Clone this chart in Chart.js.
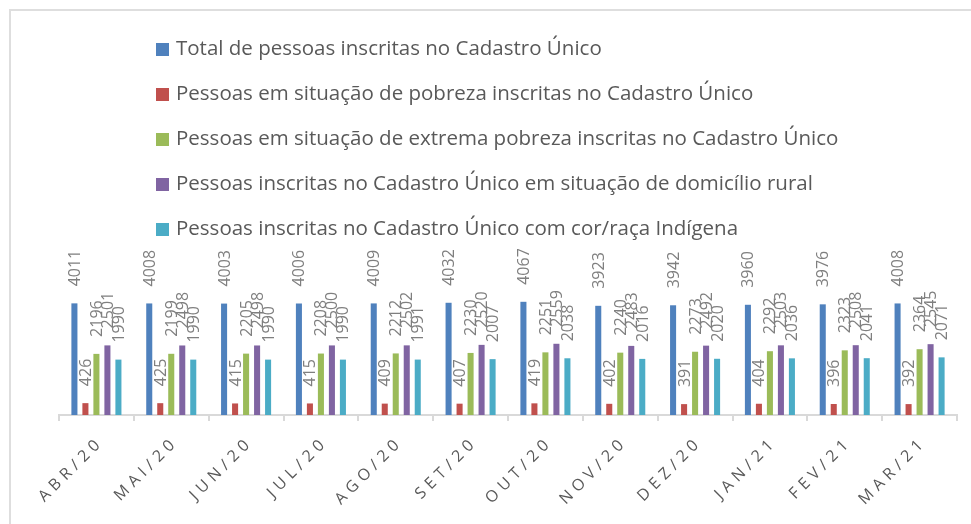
<!DOCTYPE html>
<html>
<head>
<meta charset="utf-8">
<script src="https://cdn.jsdelivr.net/npm/chart.js@4/dist/chart.umd.min.js"></script>
<style>
  body { margin: 0; background: #fff; overflow: hidden; }
  #wrap { position: relative; width: 971px; height: 524px; }
  #frame { position: absolute; left: 9px; top: 9px; width: 980px; height: 530px;
           border-top: 2px solid #dedede; border-left: 2px solid #dedede; }
  #chart { position: absolute; left: 0; top: 0; }
  #legend { position: absolute; left: 156px; top: 25px; font-family: "Open Sans", sans-serif;
            font-size: 20.5px; color: #595959; }
  #legend div { height: 45px; line-height: 45px; white-space: nowrap; }
  #legend span { display: inline-block; width: 13px; height: 13px; margin-right: 7px; vertical-align: -1px; }
</style>
</head>
<body>
<div id="wrap">
  <div id="frame"></div>
  <canvas id="chart" width="971" height="524"></canvas>
  <div id="legend"></div>
</div>
<script>
const months = ['ABR/20', 'MAI/20', 'JUN/20', 'JUL/20', 'AGO/20', 'SET/20', 'OUT/20', 'NOV/20', 'DEZ/20', 'JAN/21', 'FEV/21', 'MAR/21'];

const seriesNames = [
  'Total de pessoas inscritas no Cadastro Único',
  'Pessoas em situação de pobreza inscritas no Cadastro Único',
  'Pessoas em situação de extrema pobreza inscritas no Cadastro Único',
  'Pessoas inscritas no Cadastro Único em situação de domicílio rural',
  'Pessoas inscritas no Cadastro Único com cor/raça Indígena'
];

const total = [4011, 4008, 4003, 4006, 4009, 4032, 4067, 3923, 3942, 3960, 3976, 4008];
const pobreza = [426, 425, 415, 415, 409, 407, 419, 402, 391, 404, 396, 392];
const extremaPobreza = [2196, 2199, 2205, 2208, 2212, 2230, 2251, 2240, 2273, 2292, 2323, 2364];
const rural = [2501, 2498, 2498, 2500, 2502, 2520, 2559, 2483, 2492, 2503, 2508, 2545];
const indigena = [1990, 1990, 1990, 1990, 1991, 2007, 2038, 2016, 2020, 2036, 2041, 2071];

const colors = ['#4F81BD', '#C0504D', '#9BBB59', '#8064A2', '#4BACC6'];
const allSeries = [total, pobreza, extremaPobreza, rural, indigena];

// legend as html, one item per line
const legendEl = document.getElementById('legend');
seriesNames.forEach((name, i) => {
  const row = document.createElement('div');
  row.innerHTML = '<span style="background:' + colors[i] + '"></span>' + name;
  legendEl.appendChild(row);
});

// rotated value labels above each bar + spaced month labels at 45deg
const labelsPlugin = {
  id: 'labelsPlugin',
  afterDatasetsDraw(chart) {
    const ctx = chart.ctx;
    ctx.save();
    ctx.font = '16px "Open Sans"';
    ctx.fillStyle = '#7f7f7f';
    ctx.textAlign = 'left';
    ctx.textBaseline = 'middle';
    chart.data.datasets.forEach((ds, i) => {
      chart.getDatasetMeta(i).data.forEach((bar, j) => {
        ctx.save();
        ctx.translate(bar.x + 1, bar.y - 17);
        ctx.rotate(-Math.PI / 2);
        ctx.fillText(String(ds.data[j]), 0, 0);
        ctx.restore();
      });
    });
    ctx.restore();
  },
  afterDraw(chart) {
    const ctx = chart.ctx;
    const xs = chart.scales.x;
    const spacing = 5;
    ctx.save();
    ctx.font = '16px "Open Sans"';
    ctx.fillStyle = '#595959';
    ctx.textAlign = 'left';
    ctx.textBaseline = 'middle';
    chart.data.labels.forEach((lab, i) => {
      const chars = lab.split('');
      const widths = chars.map(c => ctx.measureText(c).width);
      const full = widths.reduce((a, b) => a + b, 0) + spacing * (chars.length - 1);
      ctx.save();
      ctx.translate(xs.getPixelForTick(i) + 1, xs.top + 28);
      ctx.rotate(-Math.PI / 4);
      let pos = -full;
      chars.forEach((c, k) => {
        ctx.fillText(c, pos, 0);
        pos += widths[k] + spacing;
      });
      ctx.restore();
    });
    ctx.restore();
  }
};

new Chart(document.getElementById('chart'), {
  type: 'bar',
  data: {
    labels: months,
    datasets: allSeries.map((values, i) => ({
      label: seriesNames[i],
      data: values,
      backgroundColor: colors[i],
      categoryPercentage: 0.735,
      barPercentage: 0.55
    }))
  },
  options: {
    responsive: false,
    animation: false,
    layout: { padding: { top: 248, left: 59, right: 14, bottom: 0 } },
    plugins: {
      legend: { display: false },
      tooltip: { enabled: false }
    },
    scales: {
      x: {
        afterFit: s => { s.height = 109; },
        border: { color: '#d9d9d9', width: 2 },
        grid: { drawOnChartArea: false, drawTicks: true, tickLength: 6, color: '#d9d9d9', lineWidth: 2 },
        ticks: { display: false }
      },
      y: {
        display: false,
        min: 0,
        max: 6000
      }
    }
  },
  plugins: [labelsPlugin]
});
</script>
</body>
</html>
